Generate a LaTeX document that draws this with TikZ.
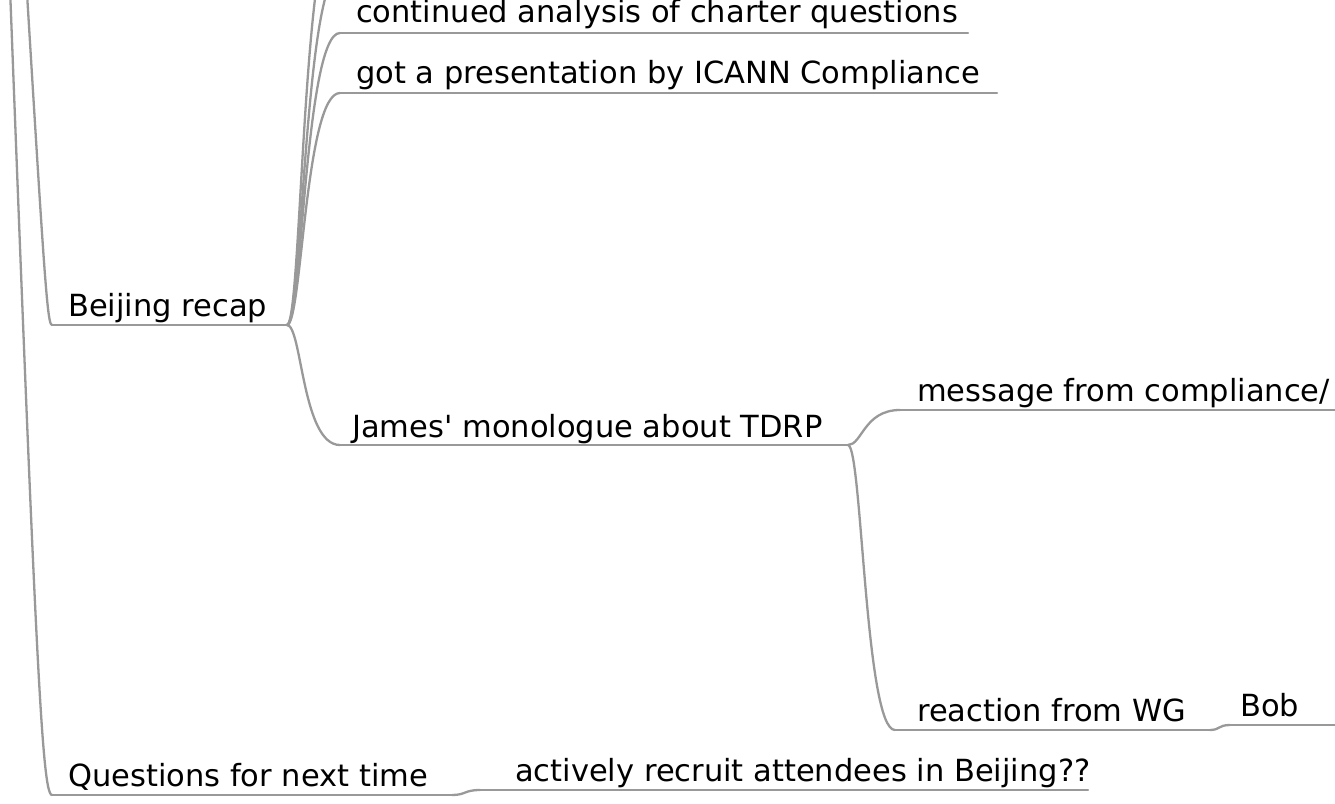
\documentclass[tikz,border=0pt]{standalone}
\usepackage{fontspec}
\setmainfont{DejaVu Sans}
\tikzset{
  topic/.style={inner sep=0pt, anchor=base west, font=\fontsize{30.5}{36}\selectfont},
  branch/.style={draw=black!40, line width=2.3pt, line cap=round},
}
\begin{document}
\begin{tikzpicture}[x=1pt, y=-1pt]
  \useasboundingbox (0,0) rectangle (1335,803);
  \clip (0,0) rectangle (1335,803);
  % root is above the visible part
  \coordinate (root) at (-16,-700);
  % texts
  \node[topic] (beijing) at (68,316) {Beijing recap};
  \node[topic] (charter) at (356,22) {continued analysis of charter questions};
  \node[topic] (compliance) at (356,83) {got a presentation by ICANN Compliance};
  \node[topic] (james) at (352,437) {James\textquotesingle{} monologue about TDRP};
  \node[topic] (message) at (917,401) {message from compliance/};
  \node[topic] (reaction) at (917,721) {reaction from WG};
  \node[topic] (bob) at (1240,716) {Bob};
  \node[topic] (questions) at (68,786) {Questions for next time};
  \node[topic] (recruit) at (515,781) {actively recruit attendees in Beijing??};
  % underline ends
  \coordinate (beijing-l) at (52,325);    \coordinate (beijing-r) at (287,325);
  \coordinate (charter-l) at (340,33);    \coordinate (charter-r) at (968,33);
  \coordinate (compliance-l) at (340,93); \coordinate (compliance-r) at (997,93);
  \coordinate (james-l) at (340,445);     \coordinate (james-r) at (848,445);
  \coordinate (message-l) at (900,410);   \coordinate (message-r) at (1345,410);
  \coordinate (reaction-l) at (895,730);  \coordinate (reaction-r) at (1210,730);
  \coordinate (bob-l) at (1230,725);      \coordinate (bob-r) at (1345,725);
  \coordinate (questions-l) at (52,795);  \coordinate (questions-r) at (452,795);
  \coordinate (recruit-l) at (480,790);   \coordinate (recruit-r) at (1088,790);
  \coordinate (hidden1) at (340,-27);
  \coordinate (hidden2) at (340,-87);
  \foreach \t in {beijing,charter,compliance,james,message,reaction,bob,questions,recruit}
    \draw[branch] (\t-l) -- (\t-r);
  % branches
  \draw[branch] (root) .. controls (42,220) and (45,325) .. (beijing-l);
  \draw[branch] (root) .. controls (33,600) and (40,795) .. (questions-l);
  \draw[branch] (beijing-r) .. controls (302,325) and (302,-87) .. (hidden2);
  \draw[branch] (beijing-r) .. controls (302,325) and (305,-27) .. (hidden1);
  \draw[branch] (beijing-r) .. controls (302,325) and (305,33) .. (charter-l);
  \draw[branch] (beijing-r) .. controls (302,325) and (305,93) .. (compliance-l);
  \draw[branch] (beijing-r) .. controls (302,325) and (302,445) .. (james-l);
  \draw[branch] (james-r) .. controls (862,445) and (864,410) .. (message-l);
  \draw[branch] (james-r) .. controls (862,445) and (865,730) .. (reaction-l);
  \draw[branch] (reaction-r) .. controls (1220,730) and (1218,725) .. (bob-l);
  \draw[branch] (questions-r) .. controls (466,795) and (464,790) .. (recruit-l);
\end{tikzpicture}
\end{document}
